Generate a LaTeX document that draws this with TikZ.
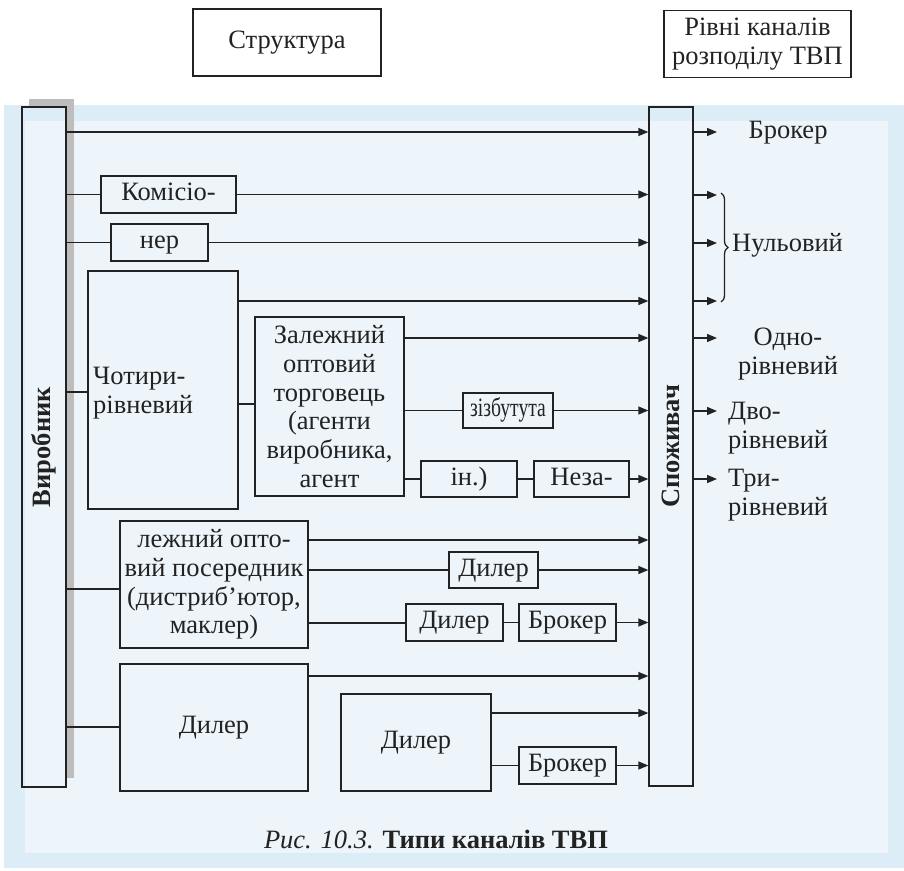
\documentclass[tikz,border=0pt]{standalone}
\usepackage{fontspec}
\setmainfont{Liberation Serif}
\usetikzlibrary{arrows.meta,decorations.pathreplacing}
\definecolor{ink}{HTML}{222222}
\definecolor{bandblue}{HTML}{DDEDF7}
\definecolor{paleblue}{HTML}{EDF5FA}
\definecolor{shadowgray}{HTML}{BDBDBD}

\begin{document}
\begin{tikzpicture}[x=1pt,y=-1pt,
  every node/.style={font=\fontsize{26.5}{28.8}\selectfont, text=ink},
  box/.style={draw=ink, line width=1.3pt, inner sep=0pt},
  plain/.style={inner sep=0pt},
  multi/.style={align=center},
  oneline/.style={text height=18.5pt, text depth=6.4pt},
  link/.style={draw=ink, line width=1.3pt},
  feed/.style={link, -{Triangle[length=10pt,width=8pt]}},
]
\useasboundingbox (0,0) rectangle (904,870);

% page background band
\fill[bandblue] (4,105) rectangle (904,868);
\fill[paleblue] (25,121) rectangle (888,853);

% headings
\node[box, oneline, minimum width=188pt, minimum height=67pt] (struct) at (287,42.5) {Структура};
\node[box, multi, minimum width=187pt, minimum height=67pt] (levels) at (757.5,44) {Рівні каналів\\розподілу ТВП};

% producer with its shadow, and the consumer
\fill[shadowgray] (29,99) rectangle (74,107);
\fill[shadowgray] (66,99) rectangle (74,778);
\node[box, minimum width=44pt, minimum height=680pt] (maker) at (44,447) {\rotatebox{90}{\textbf{Виробник}}};
\node[box, minimum width=44pt, minimum height=679pt] (buyer) at (671,446.5) {\rotatebox{90}{\textbf{Споживач}}};

% intermediaries
\node[box, oneline, minimum width=135pt, minimum height=37pt] (kom) at (168.5,194.5) {Комісіо-};
\node[box, oneline, minimum width=97pt, minimum height=37pt] (ner) at (159.5,242.5) {нер};
\node[box, minimum width=150pt, minimum height=238pt] (four) at (163,390) {};
\node[plain, anchor=west, align=left] (fourtext) at (93,393) {Чотири-\\рівневий};
\node[box, multi, minimum width=149pt, minimum height=179pt] (dep) at (329.5,406.5)
  {Залежний\\оптовий\\торговець\\(агенти\\виробника,\\агент};
\node[box, oneline, minimum width=90pt, minimum height=35pt] (sales) at (508,410.5)
  {\scalebox{0.74}[1]{зізбутута}};
\node[box, oneline, minimum width=96pt, minimum height=36pt] (inn) at (469,479) {ін.)};
\node[box, oneline, minimum width=95pt, minimum height=36pt] (neza) at (581.5,479) {Неза-};
\node[box, multi, minimum width=188pt, minimum height=127pt] (indep) at (214,584.5)
  {лежний опто-\\вий посередник\\(дистриб’ютор,\\маклер)};
\node[box, oneline, minimum width=89pt, minimum height=36pt] (dla) at (493.5,570) {Дилер};
\node[box, oneline, minimum width=97pt, minimum height=37pt] (dlb) at (454.5,622.5) {Дилер};
\node[box, oneline, minimum width=97pt, minimum height=37pt] (bra) at (567.5,622.5) {Брокер};
\node[box, oneline, minimum width=188pt, minimum height=127pt] (dlbig) at (214,727.5) {Дилер};
\node[box, oneline, minimum width=150pt, minimum height=97pt] (dlc) at (416,742.5) {Дилер};
\node[box, oneline, minimum width=97pt, minimum height=37pt] (brb) at (567.5,765.5) {Брокер};

% rows of the channels
\coordinate (rowa) at (0,132);
\coordinate (rowb) at (0,195);
\coordinate (rowc) at (0,243);
\coordinate (rowd) at (0,301);
\coordinate (rowe) at (0,338);
\coordinate (rowf) at (0,411);
\coordinate (rowg) at (0,479);
\coordinate (tapfour) at (0,392);
\coordinate (tapdep) at (0,404);
\coordinate (tapind) at (0,589);
\coordinate (indtop) at (0,540);
\coordinate (indlow) at (0,623);
\coordinate (tapbig) at (0,727);
\coordinate (bigtop) at (0,676);
\coordinate (dlctop) at (0,713);
\coordinate (tipx) at (717,0);

% channels from the producer
\draw[feed] (maker.east |- rowa) -- (buyer.west |- rowa);
\draw[link] (maker.east |- kom.west) -- (kom.west);
\draw[feed] (kom.east) -- (buyer.west |- kom.east);
\draw[link] (maker.east |- ner.west) -- (ner.west);
\draw[feed] (ner.east) -- (buyer.west |- ner.east);
\draw[link] (maker.east |- tapfour) -- (four.west |- tapfour);
\draw[feed] (four.east |- rowd) -- (buyer.west |- rowd);
\draw[link] (four.east |- tapdep) -- (dep.west |- tapdep);
\draw[feed] (dep.east |- rowe) -- (buyer.west |- rowe);
\draw[link] (dep.east |- sales.west) -- (sales.west);
\draw[feed] (sales.east) -- (buyer.west |- sales.east);
\draw[link] (dep.east |- inn.west) -- (inn.west);
\draw[link] (inn.east) -- (neza.west);
\draw[feed] (neza.east) -- (buyer.west |- neza.east);
\draw[link] (maker.east |- tapind) -- (indep.west |- tapind);
\draw[feed] (indep.east |- indtop) -- (buyer.west |- indtop);
\draw[link] (indep.east |- dla.west) -- (dla.west);
\draw[feed] (dla.east) -- (buyer.west |- dla.east);
\draw[link] (indep.east |- indlow) -- (dlb.west |- indlow);
\draw[link] (dlb.east) -- (bra.west);
\draw[feed] (bra.east) -- (buyer.west |- bra.east);
\draw[link] (maker.east |- tapbig) -- (dlbig.west |- tapbig);
\draw[feed] (dlbig.east |- bigtop) -- (buyer.west |- bigtop);
\draw[feed] (dlc.east |- dlctop) -- (buyer.west |- dlctop);
\draw[link] (dlc.east |- brb.west) -- (brb.west);
\draw[feed] (brb.east) -- (buyer.west |- brb.east);

% outputs of the consumer
\foreach \r in {a,b,c,d,e,f,g}
  \draw[feed] (buyer.east |- row\r) -- (tipx |- row\r);

% channel levels
\node[plain, oneline] (lvbroker) at (788,132) {Брокер};
\coordinate (bracetop) at (721,193);
\coordinate (bracebot) at (721,302);
\draw[link, decorate, decoration={brace, amplitude=7pt}] (bracetop) -- (bracebot);
\node[plain, oneline, anchor=west] (lvzero) at (732,245) {Нульовий};
\node[plain, multi] (lvone) at (788,354) {Одно-\\рівневий};
\node[plain, anchor=west, align=left] (lvtwo) at (728,428) {Дво-\\рівневий};
\node[plain, anchor=west, align=left] (lvthree) at (728,495) {Три-\\рівневий};

% caption
\node[plain, oneline] (caption) at (436,842) {\textit{Рис. 10.3.} \textbf{Типи каналів ТВП}};
\end{tikzpicture}
\end{document}
